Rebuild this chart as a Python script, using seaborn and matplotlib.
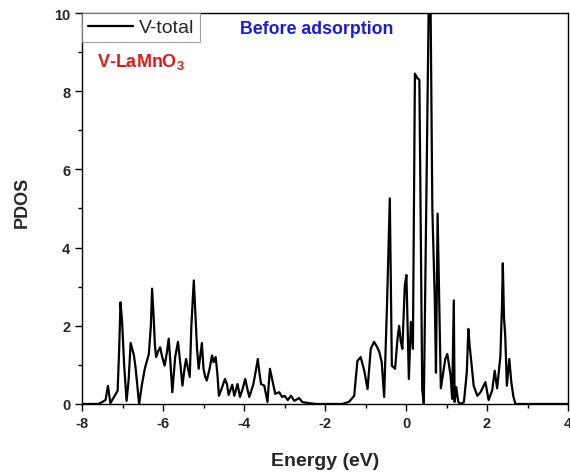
import numpy as np
import pandas as pd
import matplotlib
matplotlib.use("Agg")
import matplotlib.pyplot as plt
import seaborn as sns

energy = [-8.0, -7.6, -7.50, -7.42, -7.36, -7.30, -7.12, -7.08, -7.05, -7.01, -6.96, -6.90,
          -6.85, -6.80, -6.72, -6.68, -6.59, -6.52, -6.45, -6.35, -6.30, -6.27, -6.23, -6.20,
          -6.17, -6.12, -6.07, -6.02, -5.96, -5.90, -5.86, -5.82, -5.77, -5.70, -5.63, -5.58,
          -5.52, -5.47, -5.43, -5.38, -5.34, -5.30, -5.24, -5.20, -5.16, -5.12, -5.07, -5.04,
          -5.00, -4.96, -4.92, -4.85, -4.79, -4.75, -4.70, -4.66, -4.62, -4.55, -4.47, -4.42,
          -4.38, -4.29, -4.24, -4.16, -4.10, -4.03, -3.97, -3.92, -3.87, -3.77, -3.70, -3.66,
          -3.62, -3.58, -3.50, -3.42, -3.39, -3.36, -3.29, -3.23, -3.13, -3.06, -3.00, -2.92,
          -2.84, -2.76, -2.64, -2.56, -2.39, -2.22, -1.57, -1.40, -1.28, -1.20, -1.12, -1.03,
          -0.95, -0.87, -0.79, -0.71, -0.66, -0.60, -0.54, -0.47, -0.40, -0.35, -0.27, -0.21,
          -0.17, -0.13, -0.09, -0.03, 0.01, 0.07, 0.12, 0.17, 0.22, 0.28, 0.33, 0.40, 0.44,
          0.57, 0.60, 0.65, 0.71, 0.74, 0.78, 0.82, 0.86, 0.92, 0.97, 1.02, 1.10, 1.14, 1.18,
          1.20, 1.24, 1.29, 1.35, 1.43, 1.50, 1.54, 1.57, 1.62, 1.67, 1.76, 1.84, 1.96, 2.04,
          2.13, 2.19, 2.25, 2.33, 2.37, 2.39, 2.42, 2.45, 2.49, 2.55, 2.60, 2.65, 2.70, 4.0]
pdos = [0.0, 0.0, 0.05, 0.1, 0.46, 0.02, 0.34, 1.5, 2.6, 2.1, 1.0, 0.08,
        0.6, 1.56, 1.25, 0.95, 0.0, 0.5, 0.9, 1.28, 2.0, 2.95, 2.2, 1.5,
        1.2, 1.35, 1.45, 1.2, 0.98, 1.35, 1.67, 1.1, 0.3, 1.2, 1.59, 1.1,
        0.47, 0.9, 1.15, 0.9, 0.69, 2.0, 3.16, 2.3, 1.41, 0.9, 1.3, 1.56,
        0.9, 0.7, 0.6, 0.9, 1.24, 1.07, 1.2, 0.8, 0.21, 0.4, 0.64, 0.5,
        0.23, 0.49, 0.21, 0.51, 0.18, 0.4, 0.64, 0.4, 0.18, 0.5, 0.9, 1.15,
        0.8, 0.51, 0.47, 0.05, 0.5, 0.9, 0.56, 0.26, 0.3, 0.18, 0.21, 0.1,
        0.21, 0.08, 0.15, 0.05, 0.02, 0.0, 0.0, 0.06, 0.21, 1.1, 1.2, 0.85,
        0.38, 1.41, 1.59, 1.45, 1.33, 1.07, 0.18, 2.5, 5.26, 0.98, 0.9, 1.67,
        2.0, 1.6, 1.41, 3.03, 3.3, 0.64, 2.1, 1.41, 8.45, 8.33, 8.29, 0.38, 0.0,
        11.0, 11.0, 5.0, 2.7, 0.8, 4.87, 2.6, 0.4, 0.8, 1.15, 1.28, 0.73, 0.13, 2.65,
        0.05, 0.43, 0.05, 0.0, 0.05, 0.8, 1.92, 1.5, 1.0, 0.47, 0.21, 0.3, 0.56, 0.1,
        0.36, 0.85, 0.4, 1.22, 2.5, 3.6, 2.2, 1.75, 0.47, 1.15, 0.56, 0.2, 0.0, 0.0]

series_label = "V-total"
title_text = "Before adsorption"
material_text = "V-LaMnO$_\\mathbf{3}$"

df = pd.DataFrame({"Energy": energy, "PDOS": pdos})

sns.set_style("ticks")
plt.rcParams["font.family"] = ["Liberation Sans", "DejaVu Sans"]
plt.rcParams["axes.unicode_minus"] = False
plt.rcParams["mathtext.fontset"] = "custom"
plt.rcParams["mathtext.rm"] = "Liberation Sans"
plt.rcParams["mathtext.bf"] = "Liberation Sans:bold"

fig = plt.figure(figsize=(5.70, 4.77), dpi=100)
ax = fig.add_axes([0.1439, 0.151, 0.9965 - 0.1439, 0.9706 - 0.151])

sns.lineplot(data=df, x="Energy", y="PDOS", estimator=None, sort=False,
             color="black", linewidth=1.6, label=series_label, ax=ax)

ax.set_xlim(-8, 4)
ax.set_ylim(0, 10)
ax.set_xticks([-8, -6, -4, -2, 0, 2, 4])
ax.set_xticks([-7, -5, -3, -1, 1, 3], minor=True)
ax.set_yticks([0, 2, 4, 6, 8, 10])
ax.set_yticks([1, 3, 5, 7, 9], minor=True)
ax.tick_params(axis="both", which="major", direction="out", length=5, width=1,
               labelsize=10.5, color="black")
ax.tick_params(axis="both", which="minor", direction="out", length=3, width=1, color="black")
for lbl in ax.get_xticklabels() + ax.get_yticklabels():
    lbl.set_fontweight("bold")
for sp in ax.spines.values():
    sp.set_visible(True)
    sp.set_color("black")
    sp.set_linewidth(1.0)

ax.set_xlabel("Energy (eV)", fontsize=14, fontweight="bold", labelpad=16)
ax.set_ylabel("PDOS", fontsize=13, fontweight="bold")
ax.yaxis.set_label_coords(-0.105, 0.517)

leg = ax.legend(loc="upper left", fontsize=14, frameon=True, fancybox=False,
                edgecolor="#888888", borderaxespad=0.0, handlelength=2.3,
                borderpad=0.3, handletextpad=0.3)
leg.get_frame().set_linewidth(0.8)

ax.text(0.325, 0.96, title_text, transform=ax.transAxes, color="#1a1ae6",
        fontsize=12.8, fontweight="bold", ha="left", va="center")
ax.text(0.03, 0.877, material_text, transform=ax.transAxes, color="#e31a1a",
        fontsize=13, fontweight="bold", ha="left", va="center")

fig.savefig("out.png", dpi=100)
